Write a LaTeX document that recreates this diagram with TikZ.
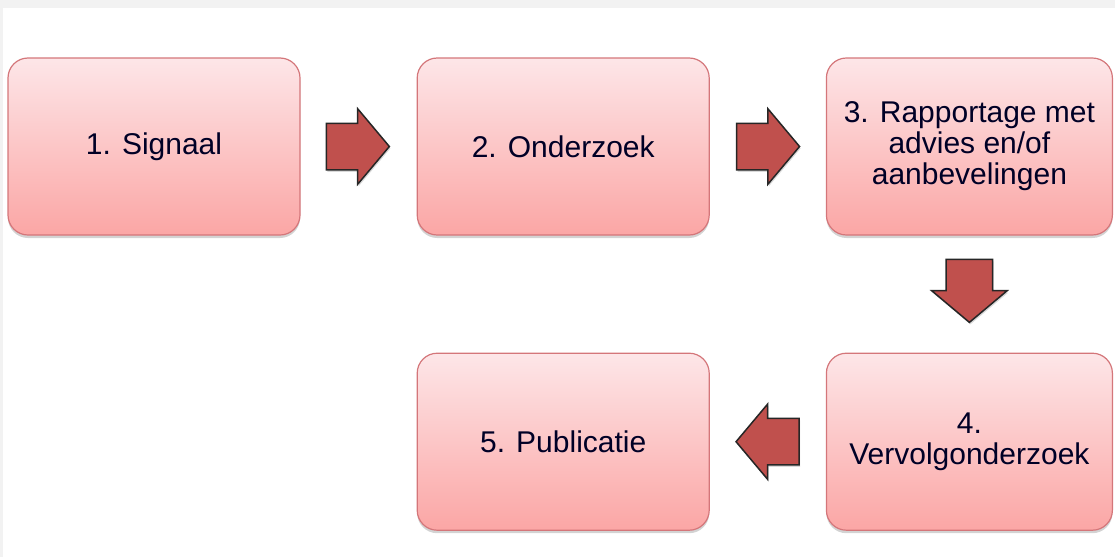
\documentclass[tikz,border=0pt]{standalone}
\usepackage{fontspec}
\setmainfont{Liberation Sans}
\usetikzlibrary{shapes.arrows, positioning, shadows}

\definecolor{boxtop}{RGB}{253,230,232}
\definecolor{boxbot}{RGB}{251,166,165}
\definecolor{boxline}{RGB}{212,118,122}
\definecolor{arrowfill}{RGB}{192,80,77}
\definecolor{bandgray}{RGB}{242,242,242}

\begin{document}
\begin{tikzpicture}[
    x=1pt, y=-1pt,
    node distance=117pt and 116pt,
    stage/.style ={rectangle, draw=boxline, line width=1.2pt, rounded corners=20pt,
                   top color=boxtop, bottom color=boxbot,
                   minimum width=292pt, minimum height=177pt, align=center,
                   font=\fontsize{30}{31}\selectfont, text=black!85!blue,
                   drop shadow={shadow xshift=0pt, shadow yshift=-3pt, opacity=0.35}},
    flow/.style  ={single arrow, draw=black!85, line width=1.5pt, fill=arrowfill,
                   minimum height=63pt, inner xsep=0pt, inner ysep=22.5pt,
                   single arrow head extend=14.5pt, single arrow tip angle=100,
                   drop shadow={shadow xshift=1pt, shadow yshift=-2pt, opacity=0.3}},
    flowdown/.style={flow, shape border rotate=270, inner xsep=22.5pt, inner ysep=0pt},
    ]
    \useasboundingbox (0,0) rectangle (1115,557);
    \fill[bandgray] (0,0) rectangle (1115,8);
    \fill[bandgray] (0,8) rectangle (3,557);

    % --- Stages ---
    \node[stage] (signaal) at (154,146.5) {1. Signaal};
    \node[stage, right=of signaal] (onderzoek) {2. Onderzoek};
    \node[stage, right=of onderzoek, minimum width=286pt] (rapport) {3. Rapportage met\\advies en/of\\aanbevelingen};
    \node[stage, below=of rapport, minimum width=286pt] (vervolg) {4.\\Vervolgonderzoek};
    \node[stage, below=of onderzoek] (publicatie) {5. Publicatie};

    % --- Block arrows ---
    \node[flow, right=25pt of signaal] (a12) {};
    \node[flow, right=26pt of onderzoek] (a23) {};
    \node[flowdown, below=23pt of rapport] (a34) {};
    \node[flow, shape border rotate=180, left=26pt of vervolg] (a45) {};

\end{tikzpicture}
\end{document}
